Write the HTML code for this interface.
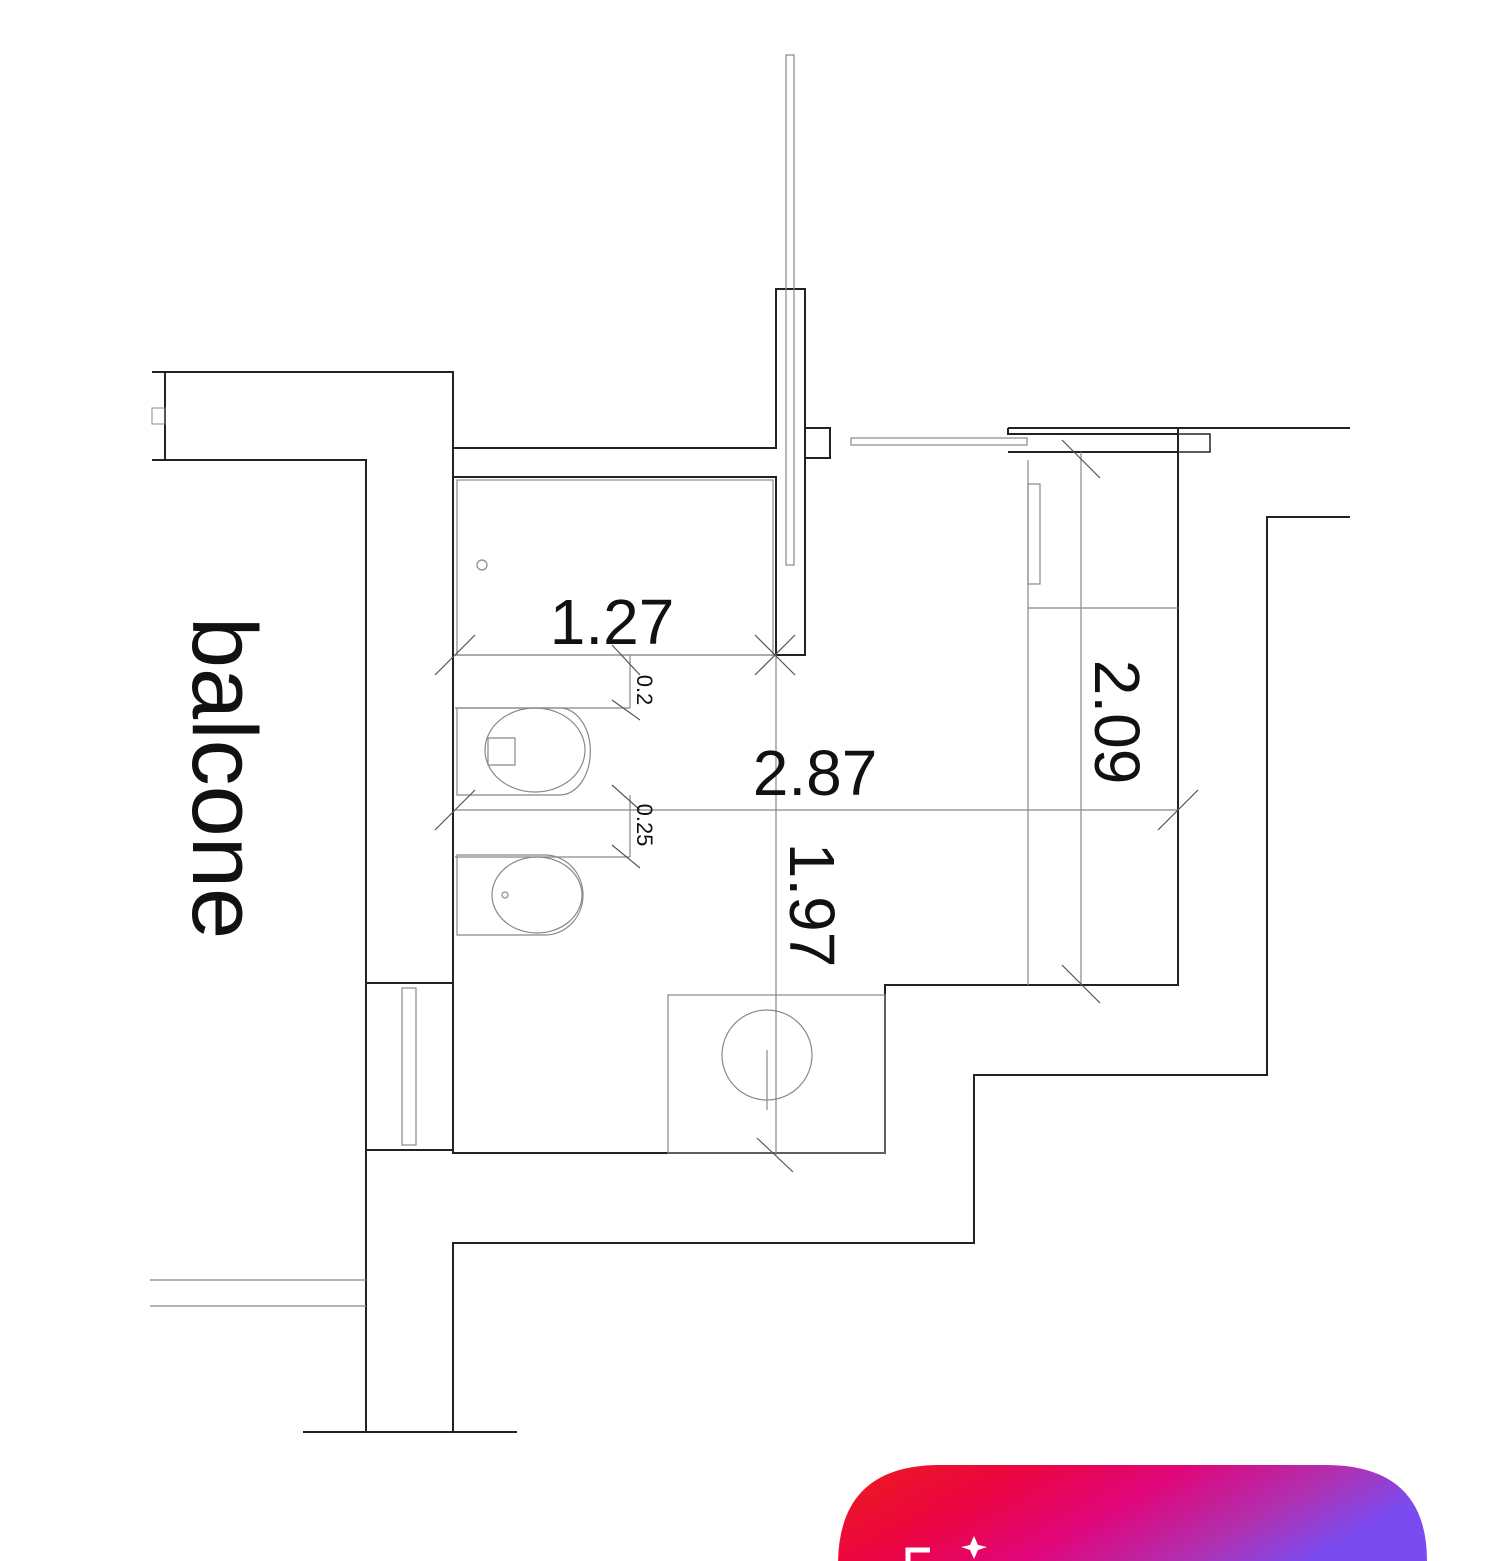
<!DOCTYPE html>
<html><head><meta charset="utf-8"><style>
html,body{margin:0;padding:0;background:#fff;width:1500px;height:1561px;overflow:hidden}
svg{position:absolute;left:0;top:0}
text{font-family:"Liberation Sans",sans-serif;fill:#111}
</style></head><body>
<svg width="1500" height="1561" viewBox="0 0 1500 1561">
<defs><linearGradient id="g" x1="0" y1="0" x2="1" y2="0.3">
<stop offset="0" stop-color="#ec1c1c"/><stop offset="0.3" stop-color="#ec0540"/><stop offset="0.55" stop-color="#e0067a"/><stop offset="0.8" stop-color="#b030b0"/><stop offset="1" stop-color="#7a4cf0"/></linearGradient></defs>
<g fill="none" stroke="#222" stroke-width="2">
<polyline points="152,372 453,372 453,983"/>
<polyline points="165,372 165,460 366,460 366,1432"/>
<line x1="152" y1="460" x2="165" y2="460"/>
<rect x="152" y="408" width="13" height="16" stroke="#888" stroke-width="1"/>
<polyline points="453,448 776,448 776,289 805,289 805,655 776,655 776,477 453,477"/>
<rect x="805" y="428" width="25" height="30"/>
<polyline points="1008,428 1350,428"/>
<polyline points="1008,428 1008,434 1178,434"/>
<polyline points="1008,452 1178,452"/>
<rect x="1178" y="434" width="32" height="18" stroke-width="1.5"/>
<polyline points="1178,428 1178,985 885,985 885,1153 453,1153 453,983 366,983"/>
<line x1="366" y1="1150" x2="453" y2="1150"/>
<polyline points="453,1432 453,1243 974,1243 974,1075 1267,1075 1267,517 1350,517"/>
<line x1="303" y1="1432" x2="517" y2="1432"/>
</g>
<g fill="none" stroke="#888" stroke-width="1.2">
<rect x="786" y="55" width="8" height="510"/>
<rect x="851" y="438" width="176" height="7"/>
<rect x="457" y="480" width="316" height="175"/>
<circle cx="482" cy="565" r="5"/>
<line x1="150" y1="1280" x2="366" y2="1280"/><line x1="150" y1="1306" x2="366" y2="1306"/>
<rect x="402" y="988" width="14" height="157"/>
<line x1="1028" y1="460" x2="1028" y2="985"/>
<rect x="1028" y="484" width="12" height="100"/>
<line x1="1028" y1="608" x2="1178" y2="608"/>
<line x1="1081" y1="452" x2="1081" y2="985"/>
<rect x="668" y="995" width="217" height="158"/>
<circle cx="767" cy="1055" r="45"/>
<line x1="767" y1="1050" x2="767" y2="1110"/>
<line x1="455" y1="655" x2="776" y2="655"/>
<line x1="455" y1="810" x2="1178" y2="810"/>
<line x1="776" y1="655" x2="776" y2="1155"/>
<line x1="630" y1="655" x2="630" y2="708"/>
<line x1="630" y1="795" x2="630" y2="857"/>
<path d="M457,708 H560 A30,43 0 0 1 560,795 H457 Z"/>
<ellipse cx="535" cy="750" rx="50" ry="42"/>
<path d="M488,738 H515 V765 H488 Z"/>
<path d="M457,855 H545 A38,40 0 0 1 545,935 H457 Z"/>
<ellipse cx="537" cy="895" rx="45" ry="38"/>
<circle cx="505" cy="895" r="3"/>
<line x1="455" y1="708" x2="630" y2="708"/><line x1="455" y1="857" x2="630" y2="857"/>
</g>
<g stroke="#555" stroke-width="1.2">
<line x1="435" y1="675" x2="475" y2="635"/><line x1="755" y1="675" x2="795" y2="635"/><line x1="755" y1="635" x2="795" y2="675"/>
<line x1="435" y1="830" x2="475" y2="790"/><line x1="1158" y1="830" x2="1198" y2="790"/>
<line x1="612" y1="645" x2="640" y2="675"/><line x1="612" y1="700" x2="640" y2="720"/>
<line x1="612" y1="785" x2="640" y2="810"/><line x1="612" y1="845" x2="640" y2="868"/>
<line x1="1062" y1="440" x2="1100" y2="478"/><line x1="1062" y1="965" x2="1100" y2="1003"/>
<line x1="757" y1="1138" x2="793" y2="1172"/>
</g>
<text x="612" y="644" font-size="64" text-anchor="middle">1.27</text>
<text x="815" y="795" font-size="64" text-anchor="middle">2.87</text>
<text transform="translate(790,905) rotate(90)" font-size="64" text-anchor="middle">1.97</text>
<text transform="translate(1095,722) rotate(90)" font-size="64" text-anchor="middle">2.09</text>
<text transform="translate(193,778) rotate(90)" font-size="92" text-anchor="middle">balcone</text>
<text transform="translate(637,690) rotate(90)" font-size="22" text-anchor="middle">0.2</text>
<text transform="translate(637,825) rotate(90)" font-size="22" text-anchor="middle">0.25</text>
<path d="M838,1561 V1565 Q838,1465 940,1465 H1325 Q1427,1465 1427,1561 Z" fill="url(#g)"/>
<path d="M908,1561 V1550 H930" stroke="#fff" stroke-width="5" fill="none"/>
<path d="M970,1545 l4,-9 l4,9 l9,2 l-9,3 l-4,9 l-4,-9 l-9,-3 z" fill="#fff"/>
</svg>
</body></html>
